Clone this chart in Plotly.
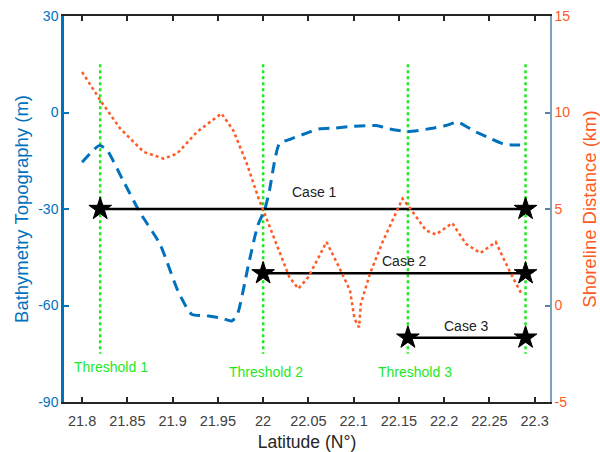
import plotly.graph_objects as go

# Bathymetry topography (left axis, m)
bathy_lat = [21.80, 21.819, 21.827, 21.845, 21.864, 21.886, 21.906, 21.921, 21.938, 21.955,
             21.965, 21.971, 21.984, 21.994, 22.002, 22.007, 22.018, 22.031, 22.051, 22.062,
             22.080, 22.096, 22.125, 22.140, 22.160, 22.185, 22.202, 22.215, 22.232, 22.248,
             22.265, 22.277, 22.289]
bathy_val = [-15.5, -10.3, -11.5, -21.0, -31.1, -40.9, -55.5, -62.7, -63.2, -64.0,
             -64.8, -63.2, -47.1, -35.2, -30.0, -24.3, -9.75, -8.2, -6.1, -5.1,
             -4.8, -4.4, -4.05, -5.1, -5.9, -5.0, -4.05, -3.0, -5.6, -7.7,
             -9.75, -10.1, -10.1]

# Shoreline distance (right axis, km)
shore_lat = [21.800, 21.820, 21.842, 21.868, 21.890, 21.905, 21.927, 21.954, 21.967, 21.982,
             21.9945, 22.000, 22.013, 22.029, 22.039, 22.050, 22.070, 22.083, 22.096, 22.101,
             22.106, 22.108, 22.118, 22.132, 22.149, 22.154, 22.164, 22.180, 22.191, 22.209,
             22.224, 22.240, 22.257, 22.272, 22.285]
shore_val = [12.1, 10.64, 9.17, 7.96, 7.61, 7.87, 9.0, 9.95, 9.08, 7.35,
             5.62, 4.95, 3.46, 1.47, 0.87, 1.47, 3.29, 2.08, 0.78, -0.69,
             -1.13, 0.09, 1.64, 3.29, 5.02, 5.54, 4.93, 3.89, 3.68, 4.27,
             3.20, 2.72, 3.29, 1.82, 0.64]

# Thresholds
threshold_lat = [21.82, 22.00, 22.16, 22.29]
threshold_span = [15, -75]
threshold_labels = ["Threshold 1", "Threshold 2", "Threshold 3"]
threshold_label_lat = [21.832, 22.003, 22.168]
threshold_label_y = [-79, -80.6, -80.6]

# Cases
case_names = ["Case 1", "Case 2", "Case 3"]
case_start = [21.82, 22.00, 22.16]
case_end = [22.29, 22.29, 22.29]
case_level = [-30, -50, -70]
case_label_lat = [22.057, 22.156, 22.225]
case_label_y = [-24.8, -46.3, -66.4]

x_ticks = [21.8, 21.85, 21.9, 21.95, 22.0, 22.05, 22.1, 22.15, 22.2, 22.25, 22.3]
x_ticktext = ["21.8", "21.85", "21.9", "21.95", "22", "22.05", "22.1", "22.15", "22.2", "22.25", "22.3"]
y_ticks = [-90, -60, -30, 0, 30]
y_ticktext = ["-90", "-60", "-30", "0", "30"]
y2_ticks = [-5, 0, 5, 10, 15]
y2_ticktext = ["-5", "0", "5", "10", "15"]

BLUE = "#0072BD"
ORANGE = "#FF5A24"
GREEN = "#1EE81E"
FONT = "Liberation Sans, Arial, sans-serif"

fig = go.Figure()

for tl in threshold_lat:
    fig.add_trace(go.Scatter(x=[tl, tl], y=threshold_span, mode="lines",
                             line=dict(color=GREEN, width=2.5, dash="dot"),
                             showlegend=False, hoverinfo="skip"))

fig.add_trace(go.Scatter(x=bathy_lat, y=bathy_val, mode="lines",
                         line=dict(color=BLUE, width=3, dash="11px,7px", shape="spline", smoothing=0.6),
                         showlegend=False))

fig.add_trace(go.Scatter(x=shore_lat, y=shore_val, mode="lines", yaxis="y2",
                         line=dict(color=ORANGE, width=2.5, dash="dot"),
                         showlegend=False))

for s, e, lv in zip(case_start, case_end, case_level):
    fig.add_trace(go.Scatter(x=[s, e], y=[lv, lv], mode="lines+markers",
                             line=dict(color="black", width=2.5),
                             marker=dict(symbol="star", size=17, color="black",
                                         line=dict(color="black", width=1)),
                             showlegend=False))

for name, xl, yl in zip(case_names, case_label_lat, case_label_y):
    fig.add_annotation(x=xl, y=yl, text=name, showarrow=False,
                       font=dict(family=FONT, size=14, color="#222222"))

for name, xl, yl in zip(threshold_labels, threshold_label_lat, threshold_label_y):
    fig.add_annotation(x=xl, y=yl, text=name, showarrow=False,
                       font=dict(family=FONT, size=14, color=GREEN))

fig.update_layout(
    width=600, height=452,
    margin=dict(l=64, r=50, t=16, b=50),
    paper_bgcolor="white", plot_bgcolor="white",
    font=dict(family=FONT),
    xaxis=dict(range=[21.78, 22.317], tickvals=x_ticks, ticktext=x_ticktext,
               ticks="inside", ticklen=5, tickwidth=2, tickcolor="#262626",
               showline=True, linecolor="#262626", linewidth=2, mirror="ticks",
               showgrid=False, zeroline=False, ticklabelstandoff=5, automargin=False,
               tickfont=dict(size=14.5, color="#404040"),
               title=dict(text="Latitude (N°)", font=dict(size=17.5, color="#262626"), standoff=11)),
    yaxis=dict(range=[-90, 30], tickvals=y_ticks, ticktext=y_ticktext,
               ticks="inside", ticklen=5, tickwidth=1.5, tickcolor=BLUE,
               showline=True, linecolor=BLUE, linewidth=2.5, automargin=False,
               showgrid=False, zeroline=False,
               tickfont=dict(size=14, color=BLUE),
               title=dict(text="Bathymetry Topography (m)", font=dict(size=18.5, color=BLUE), standoff=5)),
    yaxis2=dict(range=[-5, 15], tickvals=y2_ticks, ticktext=y2_ticktext,
                overlaying="y", side="right", automargin=False,
                ticks="inside", ticklen=5, tickwidth=1.5, tickcolor="#5f7f9f",
                showline=True, linecolor="#7f9fbf", linewidth=1.5,
                showgrid=False, zeroline=False,
                tickfont=dict(size=14, color=ORANGE),
                title=dict(text="Shoreline Distance (km)", font=dict(size=18.5, color=ORANGE), standoff=20)),
)

fig.write_html("out.html")
